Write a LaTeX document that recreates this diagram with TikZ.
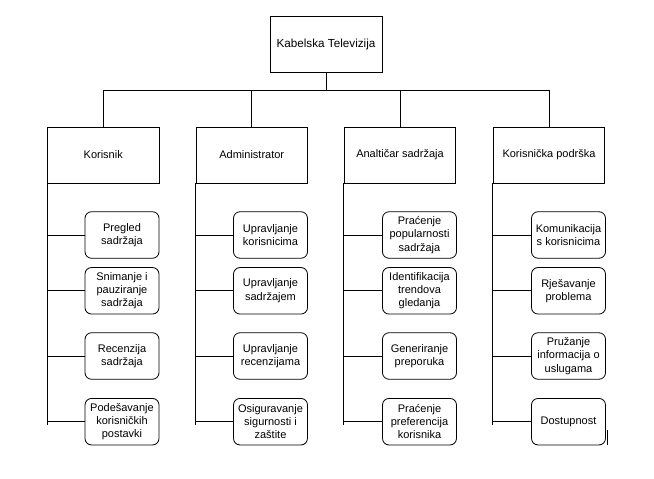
\documentclass[tikz,border=0pt]{standalone}
\usepackage{fontspec}
\setmainfont{Liberation Sans}
\usepackage{tikz}

\tikzset{
  box/.style={draw=black, line width=0.8pt, minimum width=111.5pt, minimum height=56pt, inner sep=0pt, align=center},
  item/.style={draw=black, line width=0.8pt, rounded corners=6.5pt, minimum width=74pt, minimum height=46.5pt, inner sep=0pt, align=center},
  link/.style={line width=0.8pt}
}

\begin{document}
\begin{tikzpicture}[x=1pt,y=-1pt,font=\fontsize{11}{13.3}\selectfont]
\useasboundingbox (0,0) rectangle (654,479);

\node[box, minimum width=112pt, font=\fontsize{11.7}{14}\selectfont] (tv) at (326,44) {Kabelska Televizija};

\node[box] (kor) at (103.25,155) {Korisnik};
\node[box] (adm) at (251.75,155) {Administrator};
\node[box] (ana) at (400,155) {Analtičar sadržaja};
\node[box] (pod) at (549,155) {Korisnička podrška};

% korisnik
\node[item] (k1) at (122,235) {Pregled\\sadržaja};
\node[item] (k2) at (122,290.8) {Snimanje i\\pauziranje\\sadržaja};
\node[item] (k3) at (122,356) {Recenzija\\sadržaja};
\node[item] (k4) at (122,421.7) {Podešavanje\\korisničkih\\postavki};

% administrator
\node[item] (a1) at (270.5,235) {Upravljanje\\korisnicima};
\node[item] (a2) at (270.5,290.8) {Upravljanje\\sadržajem};
\node[item] (a3) at (270.5,356) {Upravljanje\\recenzijama};
\node[item] (a4) at (270.5,421.7) {Osiguravanje\\sigurnosti i\\zaštite};

% analiticar
\node[item] (n1) at (419.5,235) {Praćenje\\popularnosti\\sadržaja};
\node[item] (n2) at (419.5,290.8) {Identifikacija\\trendova\\gledanja};
\node[item] (n3) at (419.5,356) {Generiranje\\preporuka};
\node[item] (n4) at (419.5,421.7) {Praćenje\\preferencija\\korisnika};

% podrska
\node[item] (p1) at (568.5,235) {Komunikacija\\s korisnicima};
\node[item] (p2) at (568.5,290.8) {Rješavanje\\problema};
\node[item] (p3) at (568.5,356) {Pružanje\\informacija o\\uslugama};
\node[item] (p4) at (568.5,421.7) {Dostupnost};

% bus
\coordinate (bus) at (326,90);
\draw[link] (tv.south) -- (bus);
\draw[link] (kor.north) -- (kor.north |- bus) -| (pod.north);
\draw[link] (adm.north) -- (adm.north |- bus);
\draw[link] (ana.north) -- (ana.north |- bus);

% side lines
\foreach \c/\s in {kor/k, adm/a, ana/n, pod/p} {
  \draw[link] (\c.south west) -- ++(0,242);
  \foreach \i in {1,...,4}
    \draw[link] (\s\i.west) -- (\s\i.west -| \c.west);
}
\draw[link] ([xshift=1pt]p4.south east) -- ++(0,-15);
\end{tikzpicture}
\end{document}
